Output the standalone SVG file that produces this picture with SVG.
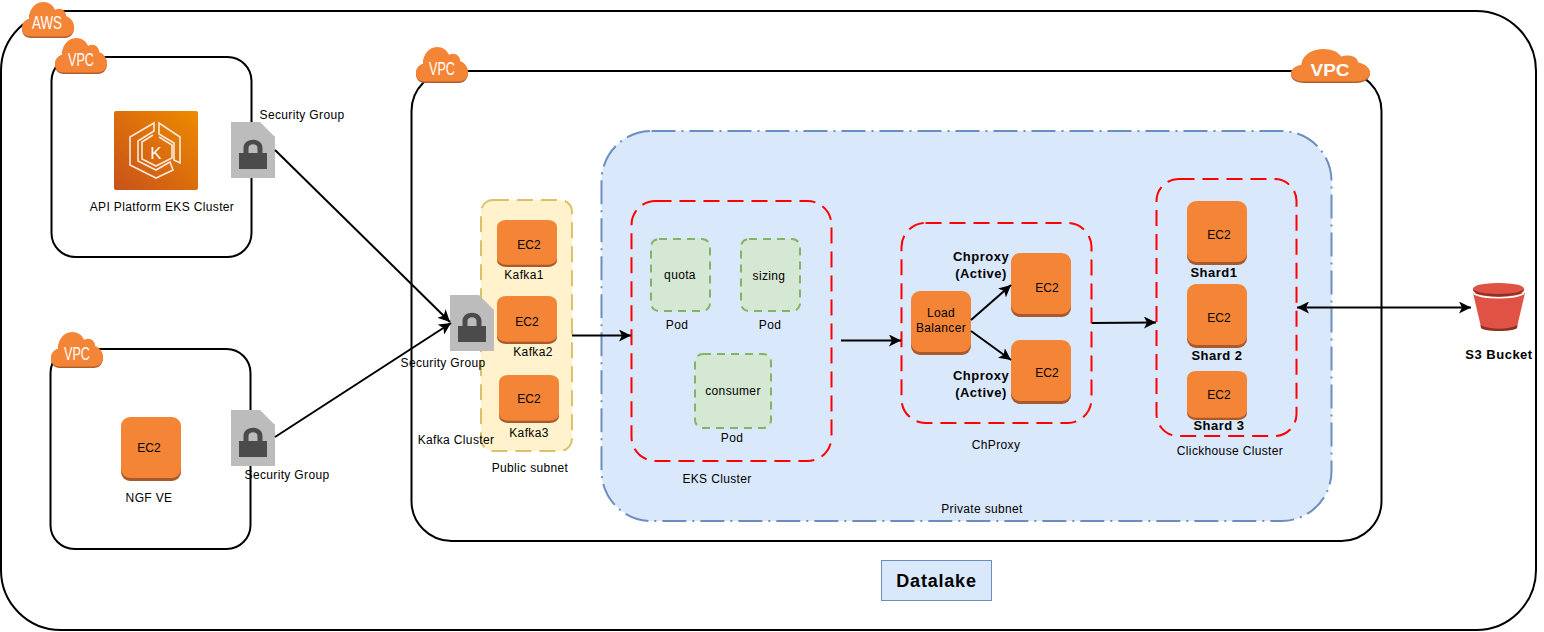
<svg xmlns="http://www.w3.org/2000/svg" width="1544" height="632" viewBox="0 0 1544 632">
<style>
text{font-family:"Liberation Sans",Arial,sans-serif;font-size:12px;fill:#000;text-anchor:middle;letter-spacing:.35px}
.b{font-weight:bold;font-size:13px;letter-spacing:.5px}
.e{letter-spacing:0}
.box{fill:#fff;stroke:#000;stroke-width:2}
.red{fill:none;stroke:#f00;stroke-width:2;stroke-dasharray:16 8}
.pod{fill:#d5e8d4;stroke:#82b366;stroke-width:2;stroke-dasharray:8 6}
.con{fill:none;stroke:#000;stroke-width:2;marker-end:url(#arr)}
.cl{fill:#fff;font-size:18px;letter-spacing:0}
</style>
<defs>
<marker id="arr" markerWidth="13" markerHeight="12" refX="12" refY="6" orient="auto" markerUnits="userSpaceOnUse"><path d="M0 0L12 6L0 12L3 6Z" fill="#000"/></marker>
<marker id="arrs" markerWidth="13" markerHeight="12" refX="12" refY="6" orient="auto-start-reverse" markerUnits="userSpaceOnUse"><path d="M0 0L12 6L0 12L3 6Z" fill="#000"/></marker>
<symbol id="cloud" viewBox="0 0 52 36" preserveAspectRatio="none" overflow="visible">
<path d="M9 36C3 36 0 32 0 27C0 22 3 18 7 17C7 9 12 1 21 1C27 1 31 4 33 9C38 6 44 9 44 15C49 17 52 21 52 26C52 32 48 36 43 36Z" fill="#b05e2c"/>
<path d="M9 34.500C3 34.500 0 31 0 26C0 21 3 18 7 17C7 9 12 0 21 0C27 0 31 3 33 8C38 5 44 8 44 14C49 16 52 20 52 25C52 31 48 34.500 43 34.500Z" fill="#f58536"/>
</symbol>
<symbol id="ec2" viewBox="0 0 60 64" preserveAspectRatio="none">
<rect x="0" y="4" width="60" height="60" rx="9" fill="#a9592b"/>
<rect x="0" y="0" width="60" height="61" rx="9" fill="#f58536"/>
</symbol>
<symbol id="sg" viewBox="0 0 44 56">
<path d="M0 0H29L44 15V56H0Z" fill="#bcbcbc"/>
<path d="M8 47V31H12.500V26C12.500 15 31.500 15 31.500 26V31H36V47ZM17.500 31H26.500V26C26.500 21 17.500 21 17.500 26Z" fill="#4b4b4b" fill-rule="evenodd"/>
</symbol>
<linearGradient id="eks" x1="0" y1="1" x2="1" y2="0"><stop offset="0" stop-color="#c8511b"/><stop offset="1" stop-color="#ee8a00"/></linearGradient>
</defs>

<g id="aws"><rect class="box" x="1" y="11" width="1535" height="619" rx="60"/><use href="#cloud" x="22" y="2" width="52" height="36"/><text class="cl" x="47" y="29" textLength="30" lengthAdjust="spacingAndGlyphs">AWS</text></g>

<g id="vpc-api"><rect class="box" x="51.500" y="57" width="200" height="200" rx="24"/><use href="#cloud" x="55" y="38" width="52" height="36"/><text class="cl" x="81" y="66" textLength="26" lengthAdjust="spacingAndGlyphs">VPC</text></g>
<g id="eks-icon"><rect x="114" y="111" width="84" height="79" rx="2" fill="url(#eks)"/>
<g fill="none" stroke="#fff" stroke-opacity=".85" stroke-width="1.600"><path d="M154 123L130 137V165L156 178L173 170L170 162L156 170L138 161V141L154 131Z"/><path d="M159 123V134L174 143V160L180 163V137Z"/><path d="M153 135L142 142V159L156 166L172 158V145L159 137"/></g>
<text class="e" x="156" y="159" style="font-size:17px;fill:#fff">K</text></g>
<text x="162" y="211">API Platform EKS Cluster</text>

<g id="vpc-ngf"><rect class="box" x="50.500" y="349" width="200" height="200" rx="24"/><use href="#cloud" x="51" y="332" width="52" height="36"/><text class="cl" x="77" y="360" textLength="26" lengthAdjust="spacingAndGlyphs">VPC</text></g>
<g id="ngf"><use href="#ec2" x="121" y="417" width="60" height="64"/><text class="e" x="149" y="452">EC2</text><text x="149" y="502">NGF VE</text></g>

<g id="vpc-main"><rect class="box" x="411.500" y="71" width="970" height="470" rx="40"/><use href="#cloud" x="416" y="47" width="52" height="36"/><text class="cl" x="442" y="75" textLength="26" lengthAdjust="spacingAndGlyphs">VPC</text><use href="#cloud" x="1291" y="49" width="79" height="34"/><text class="cl" x="1330" y="76" textLength="39" lengthAdjust="spacingAndGlyphs" style="font-size:16px;font-weight:bold">VPC</text></g>

<g id="sg1"><use href="#sg" x="231" y="122" width="44" height="56"/><text x="302" y="119">Security Group</text></g>
<g id="sg2"><use href="#sg" x="231" y="410" width="44" height="56"/><text x="287" y="479">Security Group</text></g>

<g id="public-subnet"><rect x="481" y="200" width="91" height="251" rx="12" fill="#fff2cc" stroke="#d6b656" stroke-width="2" stroke-dasharray="16 8" stroke-opacity=".85"/><text x="530" y="472">Public subnet</text></g>
<g id="kafka1"><use href="#ec2" x="497" y="220" width="60" height="47"/><text class="e" x="529" y="249">EC2</text><text x="524" y="279">Kafka1</text></g>
<g id="kafka2"><use href="#ec2" x="497" y="296" width="60" height="48"/><text class="e" x="527" y="326">EC2</text><text x="533" y="356">Kafka2</text></g>
<g id="kafka3"><use href="#ec2" x="499" y="375" width="60" height="48"/><text class="e" x="529" y="403">EC2</text><text x="529" y="437">Kafka3</text></g>
<g id="sg3"><use href="#sg" x="450" y="295" width="44" height="56"/><text x="443" y="367">Security Group</text></g>
<text id="kafka-label" x="456" y="444">Kafka Cluster</text>

<g id="private-subnet"><rect x="601.500" y="131" width="730" height="390" rx="50" fill="#dae8fc" stroke="#6c8ebf" stroke-width="2" stroke-dasharray="24 6 2 6"/><text x="982" y="513">Private subnet</text></g>

<g id="eks-cluster"><rect class="red" x="631.500" y="201" width="200" height="260" rx="24"/><text x="717" y="483">EKS Cluster</text></g>
<g id="quota"><rect class="pod" x="651" y="239" width="59" height="72" rx="8"/><text x="680" y="279">quota</text><text x="677" y="329">Pod</text></g>
<g id="sizing"><rect class="pod" x="741" y="239" width="59" height="72" rx="8"/><text x="769" y="280">sizing</text><text x="770" y="329">Pod</text></g>
<g id="consumer"><rect class="pod" x="695" y="354" width="76" height="74" rx="8"/><text x="733" y="395">consumer</text><text x="732" y="442">Pod</text></g>

<g id="chproxy"><rect class="red" x="901.500" y="223" width="190" height="200" rx="24"/><text x="996" y="449">ChProxy</text></g>
<g id="lb"><use href="#ec2" x="911" y="291" width="60" height="64"/><text x="941" y="317">Load</text><text x="941" y="332">Balancer</text></g>
<g id="ch1"><use href="#ec2" x="1011" y="253" width="60" height="64"/><text class="e" x="1047" y="292">EC2</text><text class="b" x="981" y="261">Chproxy</text><text class="b" x="981" y="278">(Active)</text></g>
<g id="ch2"><use href="#ec2" x="1011" y="340" width="60" height="64"/><text class="e" x="1047" y="377">EC2</text><text class="b" x="981" y="380">Chproxy</text><text class="b" x="981" y="397">(Active)</text></g>

<g id="clickhouse"><rect class="red" x="1156.500" y="179" width="140" height="257" rx="22"/><text x="1230" y="455">Clickhouse Cluster</text></g>
<g id="shard1"><use href="#ec2" x="1187" y="201" width="60" height="64"/><text class="e" x="1219" y="239">EC2</text><text class="b" x="1214" y="277">Shard1</text></g>
<g id="shard2"><use href="#ec2" x="1187" y="284" width="60" height="64"/><text class="e" x="1219" y="322">EC2</text><text class="b" x="1217" y="360">Shard 2</text></g>
<g id="shard3"><use href="#ec2" x="1187" y="371" width="60" height="49"/><text class="e" x="1219" y="399">EC2</text><text class="b" x="1219" y="430">Shard 3</text></g>

<g id="s3"><path d="M1473 293L1481 327C1482 332 1516 332 1517 327L1525 293Z" fill="#e05243"/><path d="M1480.500 325C1490 330 1508 330 1517.500 325L1517 328C1514 332 1484 332 1481 328Z" fill="#8c3123"/><path d="M1473.500 293.500C1482 299 1515 299 1524 293.500" fill="none" stroke="#fff" stroke-width="1.500"/><ellipse cx="1498.500" cy="290" rx="25.500" ry="6.500" fill="#8c3123"/><ellipse cx="1498.500" cy="288.500" rx="25.500" ry="5.500" fill="#e05243"/><text class="b" x="1499" y="359">S3 Bucket</text></g>

<g id="connectors">
<path class="con" d="M275 150L450 322"/>
<path class="con" d="M275 437L451 323"/>
<path class="con" d="M572 335.500H631"/>
<path class="con" d="M841 340.500H901"/>
<path class="con" d="M971 320L1011 285"/>
<path class="con" d="M971 331L1011 360"/>
<path class="con" d="M1092 323L1156 322.500"/>
<path d="M1297 307.500H1471" fill="none" stroke="#000" stroke-width="2" marker-start="url(#arrs)" marker-end="url(#arrs)"/>
</g>

<g id="datalake"><rect x="881.500" y="560.500" width="110" height="40" fill="#dae8fc" stroke="#6c8ebf"/><text x="936.500" y="587" style="font-size:18px;font-weight:bold;letter-spacing:.8px">Datalake</text></g>
</svg>
